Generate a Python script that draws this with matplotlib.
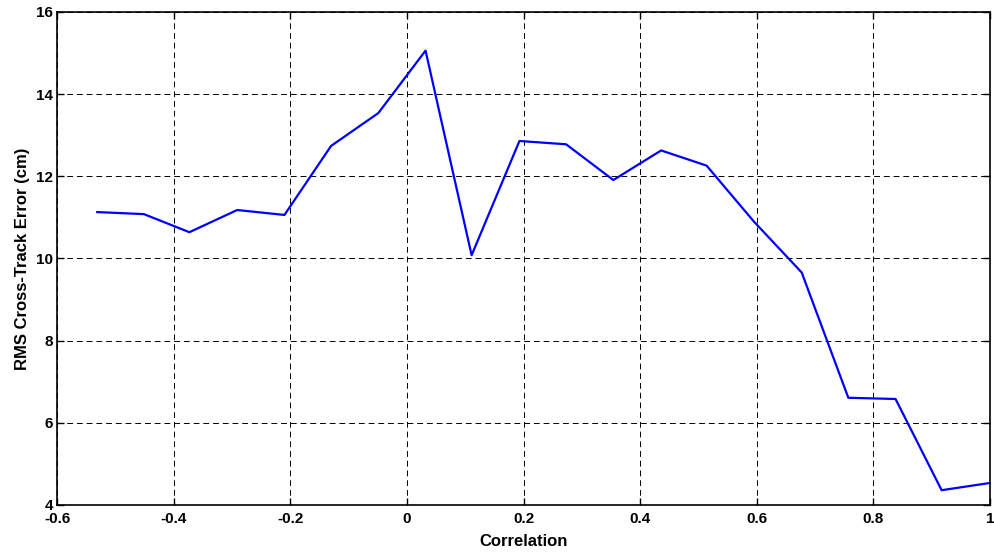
import matplotlib
matplotlib.use("Agg")
import matplotlib.pyplot as plt
from matplotlib.ticker import FormatStrFormatter

plt.rcParams["font.family"] = ["Liberation Sans", "DejaVu Sans"]
plt.rcParams["axes.unicode_minus"] = False

# ====== DATA ======
correlation = [-0.531, -0.451, -0.373, -0.291, -0.210, -0.130, -0.049, 0.032,
               0.111, 0.193, 0.273, 0.354, 0.436, 0.514, 0.595, 0.677,
               0.757, 0.838, 0.917, 0.997]
rms_error = [11.13, 11.08, 10.64, 11.18, 11.06, 12.74, 13.54, 15.06,
             10.08, 12.86, 12.78, 11.91, 12.63, 12.26, 10.90, 9.66,
             6.61, 6.58, 4.36, 4.53]
x_ticks = [-0.6, -0.4, -0.2, 0, 0.2, 0.4, 0.6, 0.8, 1]
y_ticks = [4, 6, 8, 10, 12, 14, 16]

# ====== PLOT ======
fig = plt.figure(figsize=(9.95, 5.58), dpi=100)
ax = fig.add_axes([0.0573, 0.095, 0.9377, 0.8835])

ax.plot(correlation, rms_error, color="#0000ff", linewidth=1.6)

ax.set_xlim(-0.6, 1)
ax.set_ylim(4, 16)
ax.set_xticks(x_ticks)
ax.set_yticks(y_ticks)
ax.xaxis.set_major_formatter(FormatStrFormatter("%g"))

ax.grid(True, color="black", linestyle=(0, (6, 4)), linewidth=0.7)
ax.tick_params(direction="in", length=5, width=1, labelsize=11, top=True, right=True)
ax.tick_params(axis="x", pad=5)
ax.tick_params(axis="y", pad=3)
for lab in ax.get_xticklabels() + ax.get_yticklabels():
    lab.set_fontweight("bold")
for sp in ax.spines.values():
    sp.set_linewidth(1.2)

ax.set_xlabel("Correlation", fontsize=12, fontweight="bold", labelpad=6)
ax.set_ylabel("RMS Cross-Track Error (cm)", fontsize=12, fontweight="bold", labelpad=4)

fig.savefig("out.png", dpi=100)
